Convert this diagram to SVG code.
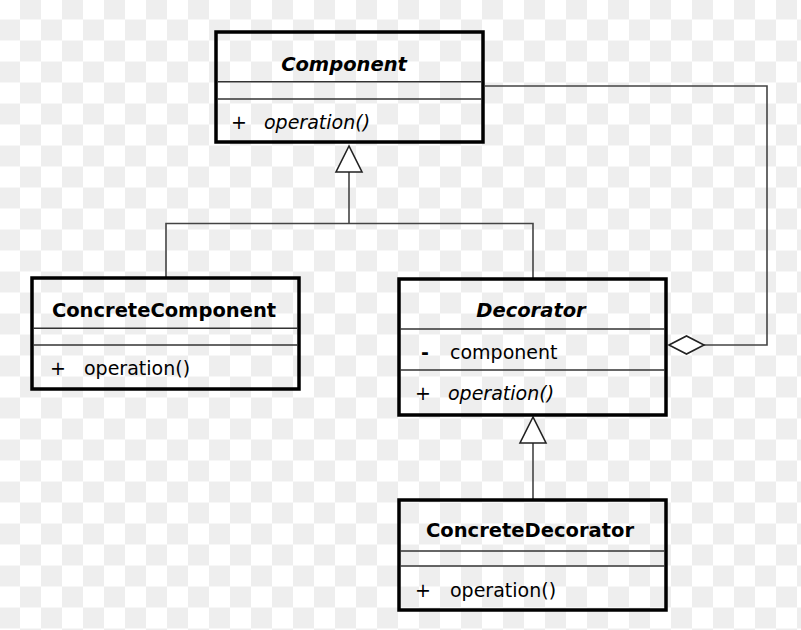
<svg xmlns="http://www.w3.org/2000/svg" width="801" height="630" viewBox="0 0 801 630">
<style>
.box{fill:none;stroke:#000;stroke-width:3.5}
.div{stroke:#333;stroke-width:1.6;fill:none}
.con{stroke:#444;stroke-width:1.6;fill:none}
.head{stroke:#222;stroke-width:1.6;fill:#fff}
.t{font-family:"DejaVu Sans","Liberation Sans",sans-serif;fill:#000}
.title{font-size:19.5px;font-weight:bold;text-anchor:middle}
.m{font-size:19px}
.i{font-style:italic}
</style>
<defs>
<pattern id="chk" patternUnits="userSpaceOnUse" x="20" y="19.5" width="42" height="42">
<rect width="42" height="42" fill="#fff"/>
<rect x="21" y="0" width="21" height="21" fill="#eeeeee"/>
<rect x="0" y="21" width="21" height="21" fill="#eeeeee"/>
</pattern>
</defs>
<rect width="801" height="630" fill="url(#chk)"/>
<g id="connectors">
<path class="con" d="M166 278 V223.5 H533 V279"/>
<path class="con" d="M349 223.5 V172"/>
<polygon class="head" points="349,146 336,172 362,172"/>
<path class="con" d="M533 443 V500"/>
<polygon class="head" points="533,417 520,443 546,443"/>
<path class="con" d="M704 345 H767 V86 H485"/>
<polygon class="head" points="669,345 686.5,336 704,345 686.5,354"/>
</g>
<g id="component">
<rect class="box" x="216" y="32" width="267" height="110"/>
<line class="div" x1="217" y1="81.7" x2="482" y2="81.7"/>
<line class="div" x1="217" y1="99" x2="482" y2="99"/>
<text class="t title i" x="344" y="71">Component</text>
<text class="t m" x="231" y="129">+</text>
<text class="t m i" x="264" y="129">operation()</text>
</g>
<g id="concretecomponent">
<rect class="box" x="32" y="278" width="267" height="111"/>
<line class="div" x1="33" y1="328.3" x2="298" y2="328.3"/>
<line class="div" x1="33" y1="345" x2="298" y2="345"/>
<text class="t title" x="164" y="317">ConcreteComponent</text>
<text class="t m" x="50" y="375">+</text>
<text class="t m" x="84" y="375">operation()</text>
</g>
<g id="decorator">
<rect class="box" x="399" y="279" width="267" height="136"/>
<line class="div" x1="400" y1="329" x2="665" y2="329"/>
<line class="div" x1="400" y1="370" x2="665" y2="370"/>
<text class="t title i" x="531" y="317">Decorator</text>
<text class="t m" x="421" y="359" font-weight="bold">-</text>
<text class="t m" x="450" y="359">component</text>
<text class="t m" x="415" y="400">+</text>
<text class="t m i" x="448" y="400">operation()</text>
</g>
<g id="concretedecorator">
<rect class="box" x="399" y="500" width="267" height="110"/>
<line class="div" x1="400" y1="551" x2="665" y2="551"/>
<line class="div" x1="400" y1="566" x2="665" y2="566"/>
<text class="t title" x="530" y="537">ConcreteDecorator</text>
<text class="t m" x="415" y="597">+</text>
<text class="t m" x="450" y="597">operation()</text>
</g>
</svg>
